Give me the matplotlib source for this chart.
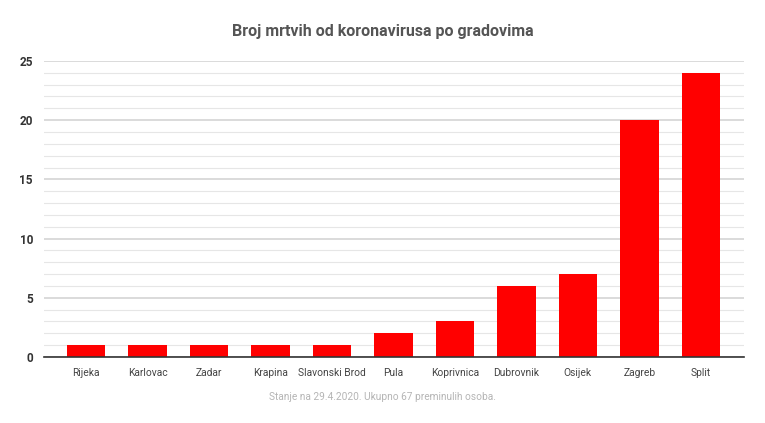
import matplotlib.pyplot as plt

gradovi = ['Rijeka', 'Karlovac', 'Zadar', 'Krapina', 'Slavonski Brod', 'Pula',
           'Koprivnica', 'Dubrovnik', 'Osijek', 'Zagreb', 'Split']
umrli = [1, 1, 1, 1, 1, 2, 3, 6, 7, 20, 24]
y_ticks = [0, 5, 10, 15, 20, 25]

plt.rcParams['font.family'] = ['Roboto', 'DejaVu Sans']

fig = plt.figure(figsize=(7.65, 4.23), dpi=100)
ax = fig.add_axes([0.0575, 0.156, 0.915, 0.70])

x = list(range(len(gradovi)))
ax.bar(x, umrli, width=0.63, color='#ff0000', zorder=3)

ax.set_xlim(-0.683, 10.70)
ax.set_ylim(0, 25)
ax.set_yticks(y_ticks)
ax.set_yticks(range(0, 26), minor=True)
ax.set_xticks(x)
ax.set_xticklabels(gradovi, color='#444444', fontsize=7.4)
ax.set_yticklabels([str(v) for v in y_ticks], color='#333333', fontsize=8.5,
                   fontweight='bold')
ax.tick_params(axis='both', length=0, pad=8)
ax.tick_params(axis='y', which='minor', length=0)

ax.grid(axis='y', which='major', color='#d4d4d4', linewidth=1.2, zorder=0)
ax.grid(axis='y', which='minor', color='#e6e6e6', linewidth=0.8, zorder=0)
for s in ['top', 'right', 'left']:
    ax.spines[s].set_visible(False)
ax.spines['bottom'].set_color('#333333')
ax.spines['bottom'].set_linewidth(1.2)
ax.spines['bottom'].set_zorder(4)

fig.text(0.5, 0.925, 'Broj mrtvih od koronavirusa po gradovima', ha='center',
         va='center', fontsize=11.5, fontweight='bold', color='#555555')
fig.text(0.5, 0.062, 'Stanje na 29.4.2020. Ukupno 67 preminulih osoba.',
         ha='center', va='center', fontsize=7.3, color='#b5b5b5')

fig.savefig('out.png', dpi=100)
